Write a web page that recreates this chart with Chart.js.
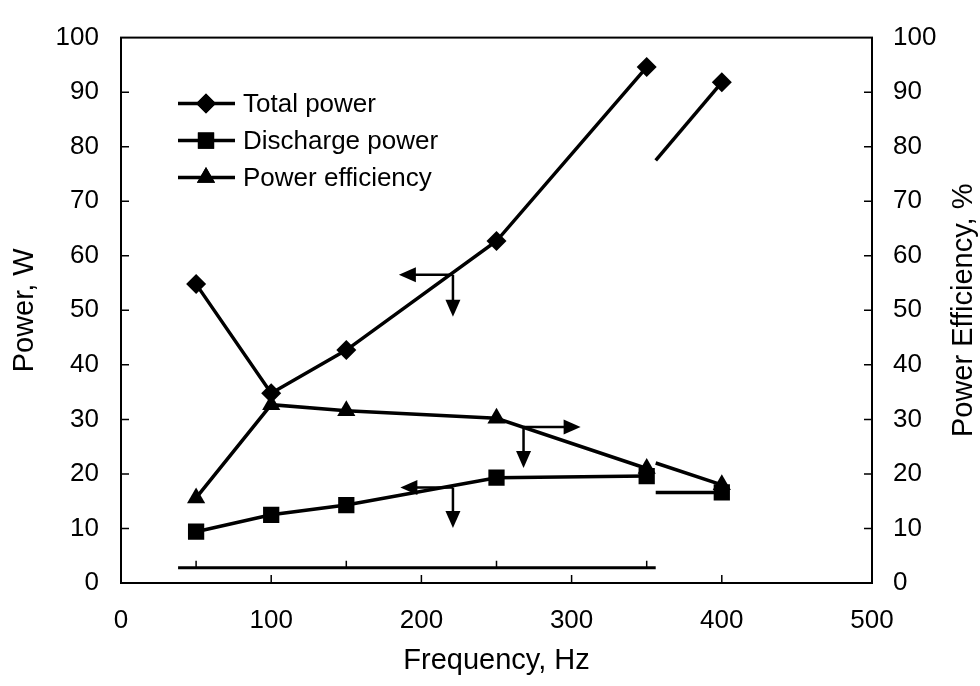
<!DOCTYPE html>
<html>
<head>
<meta charset="utf-8">
<script src="https://cdn.jsdelivr.net/npm/chart.js@4.4.1/dist/chart.umd.min.js"></script>
<style>
  html, body { margin: 0; padding: 0; background: #fff; }
  .chart-box { width: 980px; height: 686px; }
</style>
</head>
<body>
<div class="chart-box"><canvas id="power_chart"></canvas></div>
<script>
const frequencies = [50, 100, 150, 250, 350];
const totalPower = [54.8, 34.8, 42.7, 62.7, 94.6];
const dischargePower = [9.4, 12.5, 14.3, 19.3, 19.6];
const powerEfficiency = [15.6, 32.7, 31.6, 30.2, 21.0];

// the 400 Hz points sit on a pasted-in piece of the scan, lines start at ~356 Hz
const stubFrequencies = [356, 400];
const totalPowerStub = [77.5, 91.8];
const dischargePowerStub = [16.6, 16.6];
const powerEfficiencyStub = [22.0, 18.0];

// stray baseline left over in the scan, with its little ticks
const strayFrequencies = [38, 356];
const strayLevel = [2.8, 2.8];
const strayTicks = [50, 150, 250, 350];

// arrows pointing each curve to its axis: start point and tip, in data units
const arrows = [
  { axis: "y", x: 221, y: 56.5, tipX: 185, tipY: 48.8 },
  { axis: "y", x: 221, y: 17.5, tipX: 186, tipY: 10.1 },
  { axis: "y1", x: 268, y: 28.6, tipX: 306, tipY: 21.1 },
];

const legendItems = ["Total power", "Discharge power", "Power efficiency"];
const legendStyles = ["rectRot", "rect", "triangle"];

const FONT = "'Liberation Sans', Arial, Helvetica, sans-serif";
const pts = (xs, ys) => xs.map((x, i) => ({ x: x, y: ys[i] }));

const radii = { rectRot: 10, rect: 11.5, triangle: 10.5 };

const series = (data, style, axis, radius) => ({
  data: data,
  yAxisID: axis,
  borderColor: "#000",
  backgroundColor: "#000",
  borderWidth: 3.5,
  pointStyle: style,
  pointRadius: radius,
  pointBorderWidth: 0,
  pointBackgroundColor: "#000",
  tension: 0,
});

const extras = {
  id: "extras",
  afterDatasetsDraw(chart) {
    const { ctx, chartArea: a, scales } = chart;
    const xs = scales.x, ys = scales.y, ys1 = scales.y1;
    ctx.save();
    ctx.strokeStyle = "#000";
    ctx.fillStyle = "#000";

    // frame
    ctx.lineWidth = 2;
    ctx.strokeRect(a.left, a.top, a.right - a.left, a.bottom - a.top);

    // inward ticks
    ctx.lineWidth = 1.5;
    ctx.beginPath();
    for (let v = 10; v < 100; v += 10) {
      const py = ys.getPixelForValue(v);
      ctx.moveTo(a.left, py); ctx.lineTo(a.left + 8, py);
      const py1 = ys1.getPixelForValue(v);
      ctx.moveTo(a.right, py1); ctx.lineTo(a.right - 8, py1);
    }
    for (let v = 100; v < 500; v += 100) {
      const px = xs.getPixelForValue(v);
      ctx.moveTo(px, a.bottom); ctx.lineTo(px, a.bottom - 8);
    }
    const sy = ys.getPixelForValue(strayLevel[0]);
    strayTicks.forEach((v) => {
      const px = xs.getPixelForValue(v);
      ctx.moveTo(px, sy); ctx.lineTo(px, sy - 7);
    });
    ctx.stroke();

    // arrows
    const head = (x, y, dx, dy) => {
      const len = 17, w = 7.5;
      const px = -dy, py = dx;
      ctx.beginPath();
      ctx.moveTo(x, y);
      ctx.lineTo(x - dx * len + px * w, y - dy * len + py * w);
      ctx.lineTo(x - dx * len - px * w, y - dy * len - py * w);
      ctx.closePath();
      ctx.fill();
    };
    ctx.lineWidth = 2.5;
    arrows.forEach((ar) => {
      const yScale = scales[ar.axis];
      const x0 = xs.getPixelForValue(ar.x), y0 = yScale.getPixelForValue(ar.y);
      const tx = xs.getPixelForValue(ar.tipX), ty = yScale.getPixelForValue(ar.tipY);
      const sx = Math.sign(tx - x0);
      ctx.beginPath();
      ctx.moveTo(x0, y0); ctx.lineTo(tx - sx * 12, y0);
      ctx.moveTo(x0, y0); ctx.lineTo(x0, ty - 12);
      ctx.stroke();
      head(tx, y0, sx, 0);
      head(x0, ty, 0, 1);
    });

    // legend inside the plot
    ctx.font = "26px " + FONT;
    ctx.textBaseline = "middle";
    ctx.textAlign = "left";
    legendItems.forEach((label, i) => {
      const ly = a.top + 66 + i * 37;
      const lx = a.left + 57;
      ctx.lineWidth = 3.5;
      ctx.beginPath();
      ctx.moveTo(lx, ly); ctx.lineTo(lx + 57, ly);
      ctx.stroke();
      Chart.helpers.drawPoint(ctx, { pointStyle: legendStyles[i], radius: radii[legendStyles[i]], borderWidth: 0 }, lx + 28, ly);
      ctx.fill();
      ctx.fillText(label, lx + 65, ly + 1);
    });

    // right axis title, reads bottom to top like the left one
    ctx.font = "29px " + FONT;
    ctx.textAlign = "center";
    ctx.translate(964, (a.top + a.bottom) / 2);
    ctx.rotate(-Math.PI / 2);
    ctx.fillText("Power Efficiency, %", 0, 0);
    ctx.restore();
  },
};

const ctx = document.getElementById("power_chart").getContext("2d");

let configuration = {
  type: "line",
  data: {
    datasets: [
      series(pts(frequencies, totalPower), "rectRot", "y", radii.rectRot),
      series(pts(frequencies, dischargePower), "rect", "y", radii.rect),
      series(pts(frequencies, powerEfficiency), "triangle", "y1", radii.triangle),
      series(pts(stubFrequencies, totalPowerStub), "rectRot", "y", [0, radii.rectRot]),
      series(pts(stubFrequencies, dischargePowerStub), "rect", "y", [0, radii.rect]),
      series(pts(stubFrequencies, powerEfficiencyStub), "triangle", "y1", [0, radii.triangle]),
      Object.assign(series(pts(strayFrequencies, strayLevel), "circle", "y", 0), { borderWidth: 3 }),
    ],
  },
  options: {
    responsive: true,
    maintainAspectRatio: false,
    animation: false,
    layout: { padding: { top: 24, left: 0, right: 0, bottom: 0 } },
    plugins: { legend: { display: false }, tooltip: { enabled: false } },
    scales: {
      x: {
        type: "linear",
        min: 0,
        max: 500,
        afterFit: (s) => { s.height = 103; },
        ticks: { stepSize: 100, color: "#000", padding: 22, font: { family: FONT, size: 26 } },
        grid: { display: false, drawTicks: false },
        border: { display: true, color: "#000", width: 2 },
        title: { display: true, text: "Frequency, Hz", color: "#000", font: { family: FONT, size: 29 }, padding: { top: 0, bottom: 8 } },
      },
      y: {
        position: "left",
        min: 0,
        max: 100,
        afterFit: (s) => { s.width = 121; },
        ticks: { stepSize: 10, color: "#000", padding: 22, font: { family: FONT, size: 26 } },
        grid: { display: false, drawTicks: false },
        border: { display: true, color: "#000", width: 2 },
        title: { display: true, text: "Power, W", color: "#000", font: { family: FONT, size: 29 }, padding: { top: 8, bottom: 0 } },
      },
      y1: {
        position: "right",
        min: 0,
        max: 100,
        afterFit: (s) => { s.width = 108; },
        ticks: { stepSize: 10, color: "#000", padding: 21, font: { family: FONT, size: 26 } },
        grid: { display: false, drawTicks: false },
        border: { display: true, color: "#000", width: 2 },
      },
    },
  },
  plugins: [extras],
};

const chart = new Chart(ctx, configuration);
</script>
</body>
</html>
